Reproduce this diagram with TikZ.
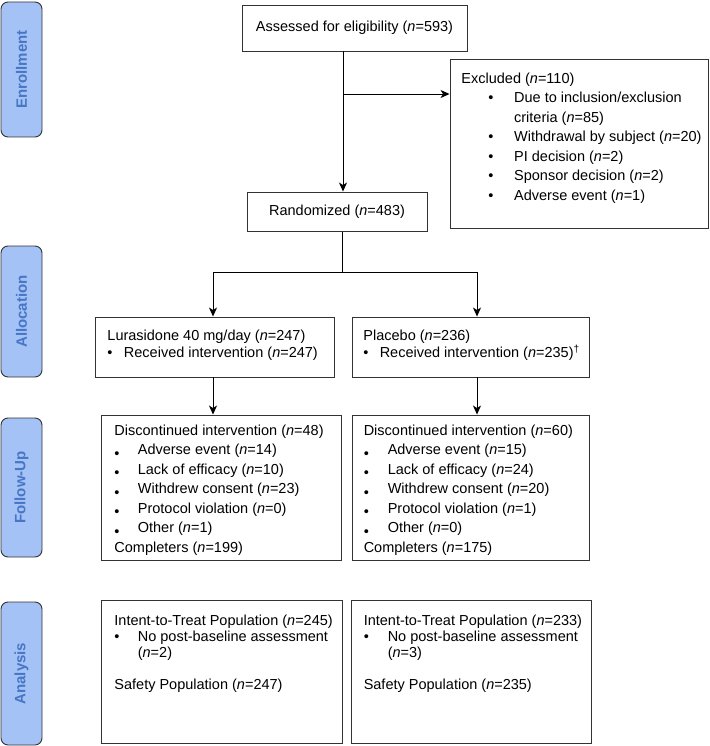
\documentclass[tikz,border=0pt]{standalone}
\usepackage{fontspec}
\setmainfont{Liberation Sans}
\usetikzlibrary{arrows.meta,positioning}
\definecolor{phasefill}{RGB}{164,194,246}
\definecolor{phasetext}{RGB}{70,118,196}
\newcommand{\nval}[1]{(\textit{n}=#1)}
\newcommand{\ibul}[1]{\makebox[#1][l]{\textbullet}}
\newcommand{\lbul}[1]{\makebox[#1][l]{\raisebox{-3.5pt}{\textbullet}}}

\begin{document}
\begin{tikzpicture}
[x=1pt, y=-1pt, line width=0.9pt, >={Stealth[length=9pt,width=8pt,inset=2.5pt]},
font=\fontsize{14.5}{19.5}\selectfont,
box/.style={rectangle, draw=black!80, line width=0.9pt, inner sep=0pt},
txt/.style={anchor=north west, align=left, inner sep=0pt},
phase/.style={rectangle, rounded corners=7pt, draw=black!80, fill=phasefill, text=phasetext, rotate=90, minimum height=41pt, inner sep=0pt, font=\fontsize{15}{17}\selectfont\bfseries}]

\useasboundingbox (0,0) rectangle (709,746);

\node[phase, minimum width=135pt] (enroll) at (21.5,69.5) {Enrollment};
\node[phase, minimum width=131pt] (alloc) at (21.5,311.5) {Allocation};
\node[phase, minimum width=139pt] (follow) at (21.5,487.5) {Follow-Up};
\node[phase, minimum width=143pt] (analys) at (21.5,673.5) {Analysis};

\node[box, minimum width=225pt, minimum height=46pt] (assessed) at (354.5,28) {Assessed for eligibility \nval{593}};

\node[box, minimum width=258pt, minimum height=169pt] (excluded) at (579,143.5) {};
\node[txt] (excluded-txt) at (461,72.5) {Excluded \nval{110}\\
\hspace*{27pt}\ibul{25.7pt}Due to inclusion/exclusion\\
\hspace*{52.7pt}criteria \nval{85}\\
\hspace*{27pt}\ibul{25.7pt}Withdrawal by subject \nval{20}\\
\hspace*{27pt}\ibul{25.7pt}PI decision \nval{2}\\
\hspace*{27pt}\ibul{25.7pt}Sponsor decision \nval{2}\\
\hspace*{27pt}\ibul{25.7pt}Adverse event \nval{1}};

\node[box, minimum width=180pt, minimum height=39.5pt] (random) at (337,211.75) {Randomized \nval{483}};

\node[box, minimum width=239pt, minimum height=60pt] (lurasid) at (214.5,347) {};
\node[txt, font=\fontsize{14.5}{17}\selectfont] (lurasid-txt) at (107,330) {Lurasidone 40 mg/day \nval{247}\\
\ibul{16.5pt}Received intervention \nval{247}};

\node[box, minimum width=237pt, minimum height=60pt] (placebo) at (470.5,347) {};
\node[txt, font=\fontsize{14.5}{17}\selectfont] (placebo-txt) at (363,330) {Placebo \nval{236}\\
\ibul{16.3pt}Received intervention \nval{235}\textsuperscript{\textdagger}};

\node[box, minimum width=240pt, minimum height=145pt] (lfollow) at (221,487.5) {};
\node[txt] (lfollow-txt) at (114,424.5) {Discontinued intervention \nval{48}\\
\lbul{23.4pt}Adverse event \nval{14}\\
\lbul{23.4pt}Lack of efficacy \nval{10}\\
\lbul{23.4pt}Withdrew consent \nval{23}\\
\lbul{23.4pt}Protocol violation \nval{0}\\
\lbul{23.4pt}Other \nval{1}\\
Completers \nval{199}};

\node[box, minimum width=237pt, minimum height=145pt] (rfollow) at (470.5,487.5) {};
\node[txt] (rfollow-txt) at (363.3,424.5) {Discontinued intervention \nval{60}\\
\lbul{24pt}Adverse event \nval{15}\\
\lbul{24pt}Lack of efficacy \nval{24}\\
\lbul{24pt}Withdrew consent \nval{20}\\
\lbul{24pt}Protocol violation \nval{1}\\
\lbul{24pt}Other \nval{0}\\
Completers \nval{175}};

\node[box, minimum width=241pt, minimum height=143pt] (lanalys) at (221.5,671.5) {};
\node[txt, font=\fontsize{14.5}{16}\selectfont] (lanalys-txt) at (114,615) {Intent-to-Treat Population \nval{245}\\
\ibul{23.4pt}No post-baseline assessment\\
\hspace*{23.4pt}\nval{2}\\[16pt]
Safety Population \nval{247}};

\node[box, minimum width=240pt, minimum height=143pt] (ranalys) at (471,671.5) {};
\node[txt, font=\fontsize{14.5}{16}\selectfont] (ranalys-txt) at (363.3,615) {Intent-to-Treat Population \nval{233}\\
\ibul{24pt}No post-baseline assessment\\
\hspace*{24pt}\nval{3}\\[16pt]
Safety Population \nval{235}};

\coordinate (split) at (343,94);
\coordinate (fork) at (342,272);
\coordinate (forkL) at (213,272);
\coordinate (forkR) at (477,272);

\draw[->] (assessed.south -| split) -- (random.north -| split);
\draw[->] (split) -- (split -| excluded.west);
\draw (random.south -| fork) -- (fork);
\draw[->] (fork) -| (lurasid.north -| forkL);
\draw[->] (fork) -| (placebo.north -| forkR);
\draw[->] (lurasid.south -| forkL) -- (lfollow.north -| forkL);
\draw[->] (placebo.south -| forkR) -- (rfollow.north -| forkR);

\end{tikzpicture}
\end{document}
